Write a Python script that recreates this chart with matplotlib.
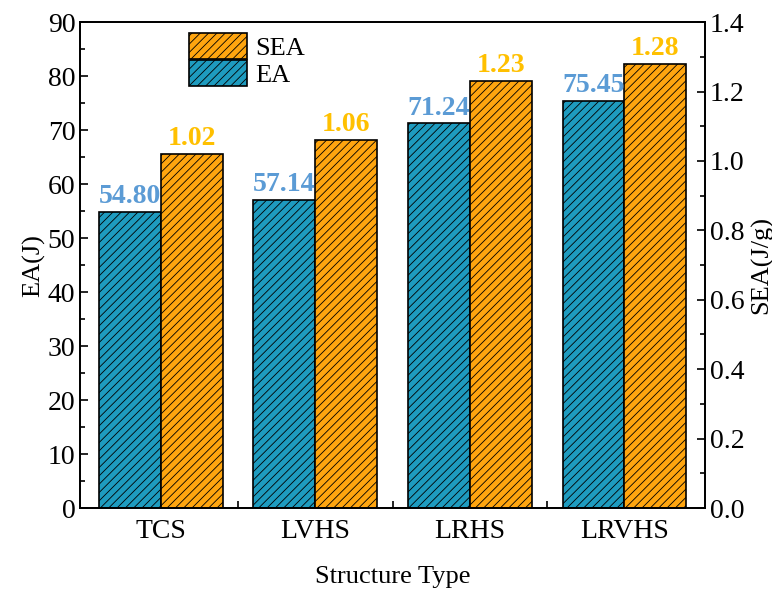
import numpy as np
import matplotlib
matplotlib.use("Agg")
from matplotlib import pyplot as plt
from matplotlib.ticker import MultipleLocator, FixedLocator

plt.rcParams['font.family'] = ['Liberation Serif', 'DejaVu Serif']
plt.rcParams['hatch.linewidth'] = 0.6

# data
structures = ["TCS", "LVHS", "LRHS", "LRVHS"]
ea = [54.80, 57.14, 71.24, 75.45]
sea = [1.02, 1.06, 1.23, 1.28]

teal = "#1e9bbf"
orange = "#ffa50f"

fig = plt.figure(figsize=(7.72, 5.97), dpi=100)
ax = fig.add_axes([0.104, 0.149, 0.809, 0.814])
ax2 = ax.twinx()

x = np.arange(len(structures))
w = 0.4

b1 = ax.bar(x - w / 2, ea, w, color=teal, edgecolor="black", linewidth=1.2,
            hatch="////", label="EA")
b2 = ax2.bar(x + w / 2, sea, w, color=orange, edgecolor="black", linewidth=1.2,
             hatch="////", label="SEA")

# value labels go on the twin axes so they sit above both bar sets
for xi, v in zip(x, ea):
    ax2.text(xi - w / 2, v + 0.5, "%.2f" % v, ha="center", va="bottom",
             color="#5b9bd5", fontsize=20, fontweight="bold",
             transform=ax.transData, zorder=5)
for xi, v in zip(x, sea):
    ax2.text(xi + w / 2, v + 0.008, "%.2f" % v, ha="center", va="bottom",
             color="#ffc000", fontsize=20, fontweight="bold", zorder=5)

ax.set_xlim(-0.52, 3.52)
ax.set_ylim(0, 90)
ax2.set_ylim(0, 1.4)
ax.yaxis.set_major_locator(MultipleLocator(10))
ax.yaxis.set_minor_locator(MultipleLocator(5))
ax2.yaxis.set_major_locator(MultipleLocator(0.2))
ax2.yaxis.set_minor_locator(MultipleLocator(0.1))
ax2.yaxis.set_major_formatter(plt.FuncFormatter(lambda v, p: "%.1f" % v))

ax.set_xticks(x)
ax.set_xticklabels(structures)
ax.xaxis.set_minor_locator(FixedLocator([0.5, 1.5, 2.5]))

for a in (ax, ax2):
    for s in a.spines.values():
        s.set_linewidth(1.3)
    a.tick_params(which="both", direction="in", labelsize=20, width=1.2)
    a.tick_params(which="major", length=6)
    a.tick_params(which="minor", length=3.5)
ax.tick_params(axis="x", which="major", length=0, pad=8)
ax.tick_params(axis="x", which="minor", length=5)

ax.set_ylabel("EA(J)", fontsize=19, labelpad=2)
ax2.set_ylabel("SEA(J/g)", fontsize=19, labelpad=4)
ax.set_xlabel("Structure Type", fontsize=19, labelpad=16)

ax2.legend([b2, b1], ["SEA", "EA"], loc="upper left", bbox_to_anchor=(0.145, 1.015),
           frameon=False, fontsize=19, handlelength=2.2, handleheight=1.15,
           labelspacing=0.0, handletextpad=0.3, borderaxespad=0.3)

fig.savefig("out.png", dpi=100)
